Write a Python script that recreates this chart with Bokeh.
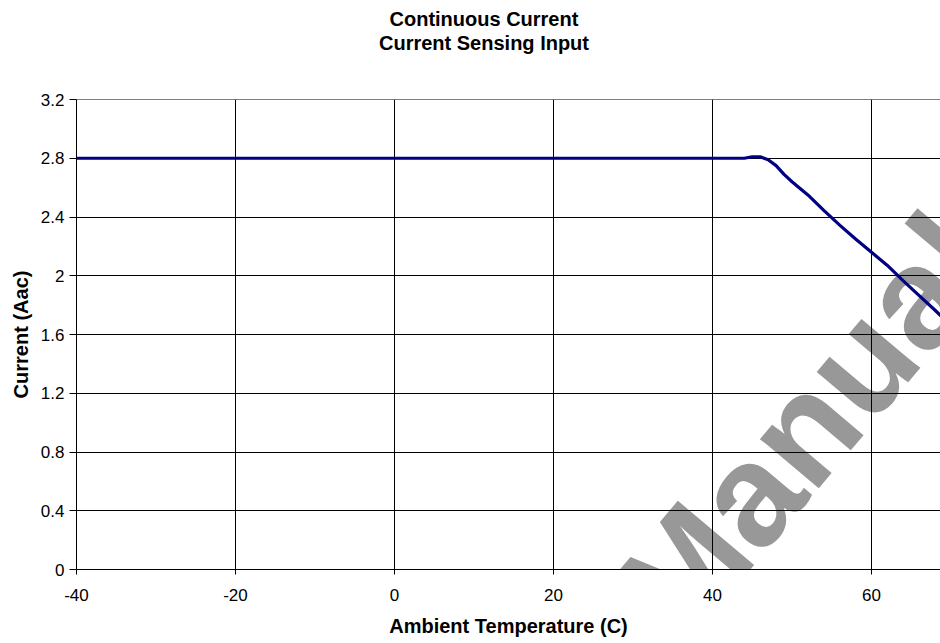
from bokeh.plotting import figure
from bokeh.models import Range1d, FixedTicker, Label, Span, Title
from bokeh.embed import file_html
from bokeh.resources import INLINE

# ---- data ----
temperature_c = [-40, 44, 45, 46, 47, 48, 49, 50, 52, 54, 56, 58, 60, 62, 64, 66, 68, 70]
current_aac = [2.80, 2.80, 2.81, 2.81, 2.79, 2.75, 2.69, 2.64, 2.55, 2.445, 2.345, 2.25,
               2.16, 2.07, 1.965, 1.865, 1.765, 1.66]
x_ticks = [-40, -20, 0, 20, 40, 60]
x_tick_labels = {-40: "-40", -20: "-20", 0: "0", 20: "20", 40: "40", 60: "60"}
y_ticks = [0, 0.4, 0.8, 1.2, 1.6, 2.0, 2.4, 2.8, 3.2]
y_tick_labels = {0: "0", 0.4: "0.4", 0.8: "0.8", 1.2: "1.2", 1.6: "1.6", 2.0: "2",
                 2.4: "2.4", 2.8: "2.8", 3.2: "3.2"}
title_line1 = "Continuous Current"
title_line2 = "Current Sensing Input"
x_label = "Ambient Temperature (C)"
y_label = "Current (Aac)"
watermark = "tManual"

FONT = "Liberation Sans"

p = figure(width=940, height=643, output_backend="svg", toolbar_location=None,
           title=None,
           x_range=Range1d(-40, 68.68), y_range=Range1d(0, 3.2),
           min_border_left=76, min_border_right=0, min_border_top=99,
           min_border_bottom=74)
p.background_fill_color = "white"
p.border_fill_color = "white"
p.outline_line_color = None

# titles: spacer nearest the frame, then line 2, then line 1 (outermost)
spacer = Title(text=" ", text_font_size="1px", standoff=42.7)
t2 = Title(text=title_line2, align="left", offset=302.5, standoff=0, text_font=FONT,
           text_font_size="20px", text_font_style="bold", text_color="black")
t1 = Title(text=title_line1, align="left", offset=313, standoff=0, text_font=FONT,
           text_font_size="20px", text_font_style="bold", text_color="black")
p.add_layout(spacer, "above")
p.add_layout(t2, "above")
p.add_layout(t1, "above")

# axes
p.xaxis.ticker = FixedTicker(ticks=x_ticks)
p.yaxis.ticker = FixedTicker(ticks=y_ticks)
p.xaxis.major_label_overrides = x_tick_labels
p.yaxis.major_label_overrides = y_tick_labels
for ax in (p.xaxis, p.yaxis):
    ax.axis_line_color = "black"
    ax.axis_line_width = 1
    ax.major_tick_line_color = "black"
    ax.major_tick_in = 0
    ax.minor_tick_line_color = None
    ax.major_label_text_font = FONT
    ax.major_label_text_font_size = "17px"
    ax.major_label_text_color = "black"
    ax.axis_label_text_font = FONT
    ax.axis_label_text_font_size = "20px"
    ax.axis_label_text_font_style = "bold"
    ax.axis_label_text_color = "black"
p.xaxis.major_tick_out = 5
p.yaxis.major_tick_out = 7
p.xaxis.major_label_standoff = 14
p.yaxis.major_label_standoff = 5
p.xaxis.axis_label = x_label
p.yaxis.axis_label = y_label
p.xaxis.axis_label_standoff = 11
p.yaxis.axis_label_standoff = 6

# grid
p.xgrid.grid_line_color = "black"
p.ygrid.grid_line_color = "black"
p.xgrid.grid_line_width = 1
p.ygrid.grid_line_width = 1
p.add_layout(Span(location=y_ticks[-1], dimension="width", line_color="black", line_width=1))

# watermark (behind everything)
wm = Label(x=27.5, y=-0.58, text=watermark, angle=0.87, text_font=FONT,
           text_font_size="145px", text_font_style="bold", text_color="#989898",
           text_align="left", text_baseline="alphabetic", level="image")
p.add_layout(wm)

# curve
p.line(temperature_c, current_aac, line_color="#000080", line_width=3.2)

open("out.html", "w").write(file_html(p, INLINE))
